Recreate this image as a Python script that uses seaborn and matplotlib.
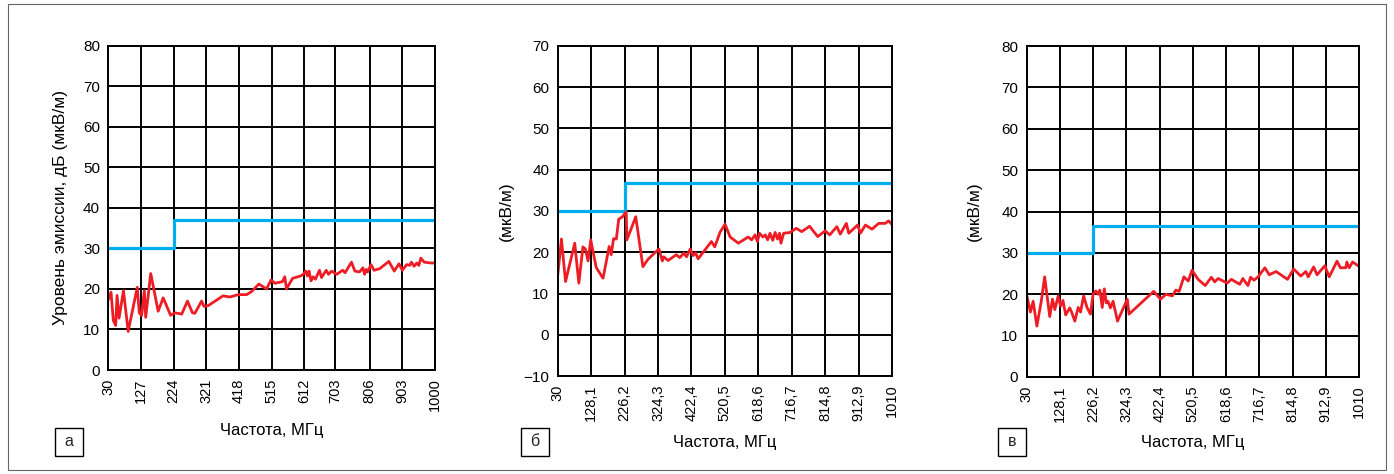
import numpy as np
import pandas as pd
import matplotlib
matplotlib.use("Agg")
import matplotlib.pyplot as plt
from matplotlib.patches import Rectangle
import seaborn as sns

sns.set_theme(style="white")
plt.rcParams['font.family'] = ['Liberation Sans', 'DejaVu Sans']

RED = "#ee1d25"
BLUE = "#00aeef"

# panel a
a_freq = [30, 38, 45, 52, 56, 62, 75, 89, 116, 122, 129, 137, 141, 156, 178, 193, 215, 228, 248, 265,
          280, 287, 307, 314, 327, 347, 371, 391, 416, 441, 456, 477, 500, 513, 525, 547, 554, 559, 577,
          601, 609, 616, 621, 626, 632, 638, 645, 657, 663, 677, 684, 693, 708, 726, 733, 752, 762, 776,
          786, 791, 796, 800, 810, 819, 836, 863, 879, 893, 903, 916, 925, 930, 938, 946, 952, 958, 968,
          987, 1000]
a_level = [17.3, 19.2, 12.2, 11.0, 18.4, 12.8, 19.6, 9.5, 20.4, 14.1, 13.4, 19.6, 13.0, 23.8, 14.5, 17.8,
           13.5, 14.1, 13.8, 17.0, 14.1, 14.0, 17.0, 15.7, 15.9, 17.0, 18.3, 18.0, 18.6, 18.6, 19.4, 21.2,
           20.0, 22.2, 21.4, 21.8, 23.0, 20.0, 22.6, 23.2, 23.6, 24.4, 23.2, 24.4, 22.0, 23.0, 22.4, 24.6,
           22.8, 24.6, 23.6, 24.4, 23.6, 24.6, 24.0, 26.6, 24.4, 24.2, 25.2, 23.6, 24.8, 24.2, 26.0, 24.6,
           25.0, 26.8, 24.4, 26.2, 24.6, 26.0, 25.8, 26.6, 25.6, 26.4, 25.8, 27.6, 26.6, 26.4, 26.4]
a_limit_freq = [30, 224, 224, 1000]
a_limit = [30, 30, 37, 37]
a_ticks = [30, 127, 224, 321, 418, 515, 612, 703, 806, 903, 1000]
a_ticklabels = ["30", "127", "224", "321", "418", "515", "612", "703", "806", "903", "1000"]

# panel b
b_freq = [30, 41, 53, 80, 92, 104, 111, 119, 127, 143, 163, 181, 187, 194, 202, 209, 220, 231, 233, 259,
          280, 295, 327, 337, 341, 354, 378, 388, 400, 408, 419, 427, 435, 442, 481, 491, 506, 521, 536,
          560, 589, 599, 609, 616, 622, 632, 639, 646, 653, 661, 668, 675, 681, 685, 693, 712, 730, 746,
          769, 793, 815, 828, 849, 859, 877, 884, 910, 918, 933, 952, 972, 991, 1001, 1010]
b_level = [14.4, 23.2, 12.9, 22.2, 12.5, 21.3, 20.8, 17.9, 23.0, 16.3, 13.7, 21.4, 19.4, 23.3, 23.2, 28.0,
           28.6, 29.8, 23.0, 28.6, 16.5, 18.3, 20.8, 17.9, 18.9, 18.0, 19.4, 18.7, 19.8, 18.9, 20.8, 19.2,
           19.8, 18.4, 22.6, 21.3, 24.8, 26.8, 23.7, 22.2, 23.7, 23.0, 24.2, 22.6, 24.6, 23.7, 24.2, 23.0,
           24.6, 22.9, 24.8, 23.2, 24.6, 22.2, 24.6, 24.8, 25.8, 25.0, 26.3, 23.8, 25.2, 24.2, 26.2, 24.4,
           27.0, 24.6, 26.6, 24.6, 26.6, 25.6, 27.0, 27.0, 27.6, 26.8]
b_limit_freq = [30, 226.2, 226.2, 1010]
b_limit = [30, 30, 36.8, 36.8]

# panel c
c_freq = [30, 41, 49, 60, 73, 83, 98, 106, 113, 123, 130, 137, 145, 157, 162, 172, 182, 189, 198, 208,
          218, 226, 234, 241, 246, 253, 259, 265, 270, 277, 285, 298, 327, 332, 405, 425, 441, 460, 470,
          480, 494, 507, 518, 536, 557, 575, 585, 595, 622, 634, 659, 668, 683, 691, 701, 713, 721, 733,
          746, 766, 800, 818, 839, 854, 861, 877, 887, 910, 923, 946, 956, 972, 975, 982, 992, 1010]
c_level = [19.8, 15.7, 18.3, 12.3, 18.3, 24.2, 14.6, 18.8, 16.3, 19.6, 17.1, 18.5, 15.0, 16.7, 15.8, 13.5,
           16.8, 15.7, 19.6, 16.8, 15.2, 20.0, 20.8, 20.0, 21.0, 16.8, 21.3, 17.9, 18.3, 16.7, 18.3, 13.5,
           18.8, 15.2, 20.7, 18.8, 20.0, 19.6, 21.0, 20.7, 24.2, 23.2, 25.8, 23.6, 22.1, 24.1, 23.0, 23.8,
           22.7, 23.6, 22.4, 23.8, 22.1, 24.1, 23.4, 24.2, 25.1, 26.4, 24.7, 25.5, 23.6, 26.1, 24.4, 25.5,
           24.2, 26.6, 24.7, 26.9, 24.2, 28.0, 26.4, 26.4, 27.8, 26.4, 27.8, 26.8]
c_limit_freq = [30, 226.2, 226.2, 1010]
c_limit = [30, 30, 36.4, 36.4]

bc_ticks = [30, 128.1, 226.2, 324.3, 422.4, 520.5, 618.6, 716.7, 814.8, 912.9, 1010]
bc_ticklabels = ["30", "128,1", "226,2", "324,3", "422,4", "520,5", "618,6", "716,7", "814,8", "912,9", "1010"]

W, H = 1394, 474
fig = plt.figure(figsize=(W / 100, H / 100), dpi=100)
fig.patch.set_facecolor("white")

panels = [
    dict(rect=(108.3, 45.7, 435.0, 370.0), freq=a_freq, level=a_level, lf=a_limit_freq, lv=a_limit,
         ticks=a_ticks, labels=a_ticklabels, ylim=(0, 80), ylabel="Уровень эмиссии, дБ (мкВ/м)",
         letter="а", box=55, ylab_x=61, xlab_y=431),
    dict(rect=(557.7, 46.0, 891.7, 376.0), freq=b_freq, level=b_level, lf=b_limit_freq, lv=b_limit,
         ticks=bc_ticks, labels=bc_ticklabels, ylim=(-10, 70), ylabel="(мкВ/м)",
         letter="б", box=521, ylab_x=506, xlab_y=442),
    dict(rect=(1026.7, 46.0, 1358.7, 377.0), freq=c_freq, level=c_level, lf=c_limit_freq, lv=c_limit,
         ticks=bc_ticks, labels=bc_ticklabels, ylim=(0, 80), ylabel="(мкВ/м)",
         letter="в", box=998, ylab_x=974, xlab_y=442),
]

for p in panels:
    x0, y0, x1, y1 = p["rect"]
    ax = fig.add_axes([x0 / W, 1 - y1 / H, (x1 - x0) / W, (y1 - y0) / H])
    ax.set_axisbelow(True)
    sns.lineplot(x=p["lf"], y=p["lv"], sort=False, estimator=None, color=BLUE, lw=2.3, ax=ax)
    sns.lineplot(x=p["freq"], y=p["level"], sort=False, estimator=None, color=RED, lw=2.0, ax=ax)
    ax.set_xlim(p["ticks"][0], p["ticks"][-1])
    ax.set_ylim(*p["ylim"])
    ax.set_xticks(p["ticks"])
    ax.set_xticklabels(p["labels"], rotation=90, fontsize=10.5)
    yt = list(range(p["ylim"][0], p["ylim"][1] + 1, 10))
    ax.set_yticks(yt)
    ax.set_yticklabels([str(v).replace("-", "\u2212") for v in yt], fontsize=11)
    ax.tick_params(length=0, pad=6, colors="black")
    ax.grid(True, color="black", lw=1.4)
    for s in ax.spines.values():
        s.set_color("black")
        s.set_linewidth(1.4)
    ax.set_xlabel("Частота, МГц", fontsize=12, color="black")
    ax.set_ylabel(p["ylabel"], fontsize=12.5, color="black")
    ax.xaxis.label.set_va("center")
    ax.yaxis.label.set_va("center")
    ax.xaxis.set_label_coords(0.5, (y1 - p["xlab_y"]) / (y1 - y0))
    ax.yaxis.set_label_coords((p["ylab_x"] - x0) / (x1 - x0), 0.5)

    bx = p["box"]
    fig.add_artist(Rectangle((bx / W, 1 - 456 / H), 28 / W, 28 / H, transform=fig.transFigure,
                             fc="white", ec="black", lw=1.0))
    fig.text((bx + 14) / W, 1 - 442 / H, p["letter"], ha="center", va="center", fontsize=11.5)

fig.add_artist(Rectangle((8 / W, 4 / H), (1386 - 8) / W, (470 - 4) / H, transform=fig.transFigure,
                         fill=False, ec="#666666", lw=0.8))

fig.savefig("out.png", dpi=100)
